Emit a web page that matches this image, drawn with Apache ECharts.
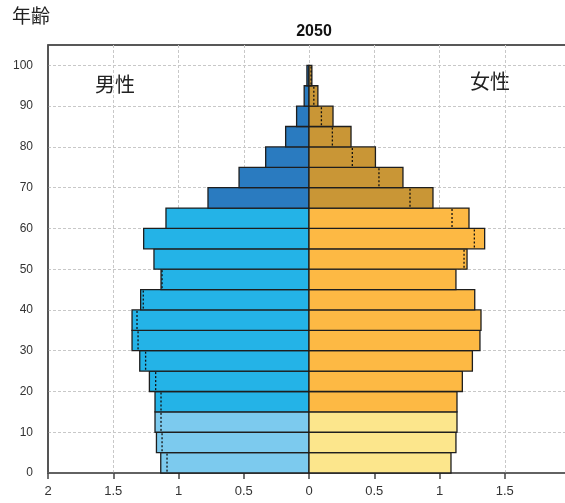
<!DOCTYPE html>
<html>
<head>
<meta charset="utf-8">
<script src="https://cdn.jsdelivr.net/npm/echarts@6/dist/echarts.min.js"></script>
<style>
  html, body { margin: 0; padding: 0; background: #fff; }
  #pyramid { width: 565px; height: 503px; }
</style>
</head>
<body>
<div id="pyramid"></div>
<script>
// 年齢階級 (下端)
const ageStart = [0, 5, 10, 15, 20, 25, 30, 35, 40, 45, 50, 55, 60, 65, 70, 75, 80, 85, 90, 95]
// 人口 (百万人)
const male = [1.136, 1.169, 1.18, 1.18, 1.223, 1.297, 1.356, 1.356, 1.29, 1.134,
  1.188, 1.267, 1.096, 0.774, 0.536, 0.332, 0.179, 0.095, 0.037, 0.016]
const female = [1.088, 1.126, 1.134, 1.134, 1.175, 1.252, 1.31, 1.318, 1.27, 1.126,
  1.211, 1.346, 1.226, 0.95, 0.72, 0.509, 0.322, 0.184, 0.068, 0.022]

const maleColors = ['#7ccaee', '#24b3e7', '#2a7bc0']
const femaleColors = ['#fce68c', '#fdb944', '#c99636']
const groupOf = (age) => (age < 15 ? 0 : age < 65 ? 1 : 2)

const chart = echarts.init(document.getElementById('pyramid'))

// 棒 + 反対側の値を点線で
const renderBar = (side) => (params, api) => {
  const i = api.value(0)
  const age = ageStart[i]
  const own = side === 'm' ? male[i] : female[i]
  const other = side === 'm' ? female[i] : male[i]
  const sign = side === 'm' ? -1 : 1
  const p0 = api.coord([0, age + 5])
  const p1 = api.coord([sign * own, age])
  const x = Math.min(p0[0], p1[0])
  const w = Math.abs(p1[0] - p0[0])
  const children = [{
    type: 'rect',
    shape: { x: x, y: p0[1], width: w, height: p1[1] - p0[1] },
    style: {
      fill: (side === 'm' ? maleColors : femaleColors)[groupOf(age)],
      stroke: '#1e1e1e',
      lineWidth: 1.3
    }
  }]
  if (other < own) {
    const q = api.coord([sign * other, age])
    children.push({
      type: 'line',
      shape: { x1: q[0], y1: p0[1] + 1, x2: q[0], y2: p1[1] - 1 },
      style: { stroke: '#111', lineWidth: 1.3, lineDash: [2, 2] }
    })
  }
  return { type: 'group', children: children }
}

const option = {
  animation: false,
  backgroundColor: '#fff',
  title: {
    text: '2050',
    left: 309,
    top: 19,
    textAlign: 'center',
    textStyle: { fontSize: 16, fontWeight: 'bold', color: '#111', fontFamily: 'Liberation Sans' }
  },
  grid: {
    left: 48,
    top: 45,
    bottom: 30,
    width: 522,
    outerBoundsMode: 'none',
    containLabel: false,
    show: true,
    borderColor: '#222',
    borderWidth: 1.5
  },
  xAxis: {
    type: 'value',
    min: -2,
    max: 2,
    interval: 0.5,
    axisLine: { show: true, onZero: false, lineStyle: { color: '#666', width: 1.5 } },
    axisTick: { show: true, length: 6, lineStyle: { color: '#444', width: 1.5 } },
    axisLabel: {
      color: '#333',
      fontSize: 13,
      margin: 12,
      fontFamily: 'Liberation Sans',
      formatter: (v) => String(Math.abs(v))
    },
    splitLine: {
      show: true,
      showMinLine: false,
      showMaxLine: false,
      lineStyle: { color: '#c8c8c8', type: [3, 2] }
    }
  },
  yAxis: {
    type: 'value',
    min: 0,
    max: 105,
    interval: 10,
    axisLine: { show: true, onZero: false, lineStyle: { color: '#555', width: 1.5 } },
    axisTick: { show: false },
    axisLabel: {
      color: '#333',
      fontSize: 12,
      margin: 15,
      showMaxLabel: false,
      fontFamily: 'Liberation Sans',
      formatter: (v) => (v > 100 ? '' : String(v))
    },
    splitLine: {
      show: true,
      showMinLine: false,
      showMaxLine: false,
      lineStyle: { color: '#c8c8c8', type: [3, 2] }
    }
  },
  graphic: [
    { type: 'text', left: 12, top: 6, style: { text: '年齢', fontSize: 19, fill: '#222', fontFamily: 'Noto Sans CJK JP' } },
    { type: 'text', left: 95, top: 74, style: { text: '男性', fontSize: 20, fill: '#222', fontFamily: 'Noto Sans CJK JP' } },
    { type: 'text', left: 470, top: 71, style: { text: '女性', fontSize: 20, fill: '#222', fontFamily: 'Noto Sans CJK JP' } }
  ],
  series: [
    {
      name: '男性',
      type: 'custom',
      renderItem: renderBar('m'),
      encode: { x: 1, y: 2 },
      data: ageStart.map((a, i) => [i, -male[i], a])
    },
    {
      name: '女性',
      type: 'custom',
      renderItem: renderBar('f'),
      encode: { x: 1, y: 2 },
      data: ageStart.map((a, i) => [i, female[i], a])
    }
  ]
}

chart.setOption(option)
</script>
</body>
</html>
